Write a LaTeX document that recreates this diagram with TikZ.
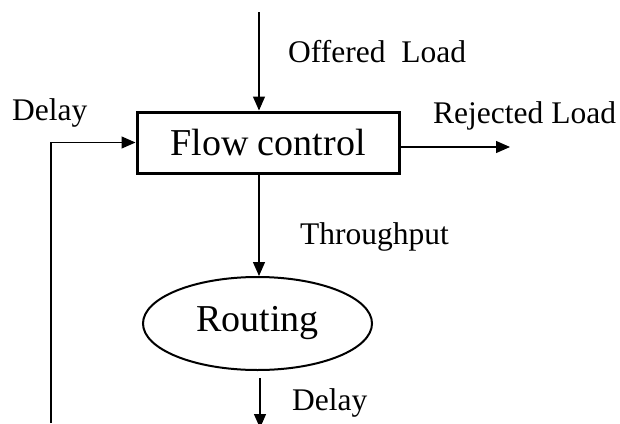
\documentclass[tikz,border=0pt]{standalone}
\usepackage{fontspec}
\setmainfont{Liberation Serif}
\usetikzlibrary{arrows.meta,shapes.geometric}
\tikzset{
  arr/.style={line width=1.3pt,-{Triangle[length=14pt,width=12pt]}},
  lbl/.style={anchor=base west,inner sep=0,font=\fontsize{31.5}{36}\selectfont},
  fcbox/.style={draw,line width=3pt,minimum width=262pt,minimum height=61pt,inner sep=0,font=\fontsize{38}{44}\selectfont},
  rtell/.style={draw,ellipse,line width=2pt,minimum width=229pt,minimum height=93pt,inner sep=0,font=\fontsize{38}{44}\selectfont}
}
\begin{document}
\begin{tikzpicture}[x=1pt,y=-1pt]
\clip (0,0) rectangle (620,423);
\node[fcbox] (fc) at (268,142.5) {Flow control};
\node[rtell] (rt) at (257.5,323.5) {Routing};
\coordinate (top) at (259,12);
\coordinate (fb) at (51,423);
\coordinate (rj) at (510,147);
\coordinate (bend) at (260,428);
\draw[arr] (top) -- (top |- fc.north);
\draw[arr] (top |- fc.south) -- (top |- rt.north);
\draw[arr] ([yshift=-7pt]rt.south -| bend) -- (bend);
\draw[arr] (fb) |- (fc.west);
\draw[arr] (fc.east |- rj) -- (rj);
\node[lbl] (ol) at (288,62) {Offered~~Load};
\node[lbl] (d1) at (12,120) {Delay};
\node[lbl] (rl) at (433,123) {Rejected Load};
\node[lbl] (tp) at (300,244) {Throughput};
\node[lbl] (d2) at (292,410) {Delay};
\end{tikzpicture}
\end{document}
